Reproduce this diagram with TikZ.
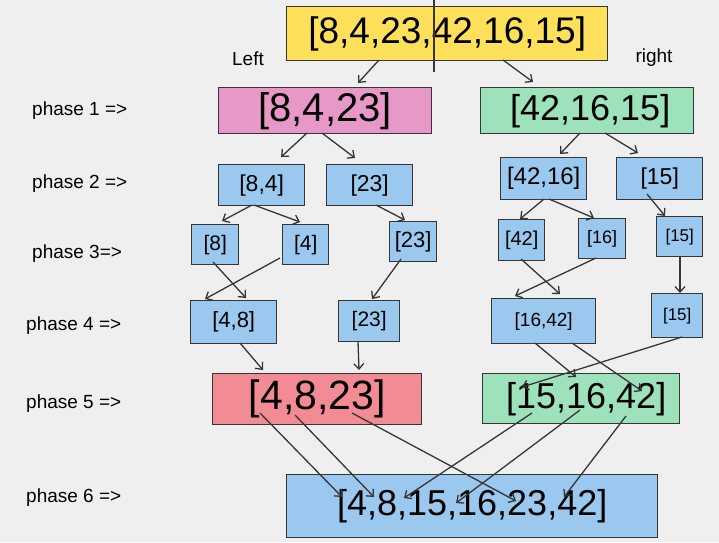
\documentclass[tikz,border=0pt]{standalone}
\usepackage{fontspec}
\setmainfont{Liberation Sans}
\usetikzlibrary{arrows.meta,calc}
\definecolor{bg}{HTML}{EFEFEF}
\definecolor{edge}{HTML}{363636}
\definecolor{cyellow}{HTML}{FEE05A}
\definecolor{cpink}{HTML}{E898C6}
\definecolor{cgreen}{HTML}{9EE2BB}
\definecolor{cblue}{HTML}{9AC8EE}
\definecolor{cred}{HTML}{F28B93}
\tikzset{
  box/.style={draw=edge, line width=1.4pt, anchor=north west, inner sep=0pt, text=black},
  lbl/.style={anchor=west, inner sep=0pt, font=\fontsize{19}{21}\selectfont},
  arr/.style={draw=edge, line width=1.3pt, -{Straight Barb[length=5.5pt,width=10pt]}},
}
\newcommand{\fs}[1]{\fontsize{#1}{#1}\selectfont}
\begin{document}
\begin{tikzpicture}[x=1pt,y=-1pt]
\fill[bg] (0,0) rectangle (719,542);
\useasboundingbox (0,0) rectangle (719,542);

% boxes
\node[box, fill=cyellow, minimum width=321pt, minimum height=54pt, font=\fs{37}] (top) at (286,6) {[8,4,23,42,16,15]\hspace{12pt}};
\node[box, fill=cpink, minimum width=213pt, minimum height=46pt, font=\fs{40}] (L1) at (218,87) {[8,4,23]\hspace{18pt}};
\node[box, fill=cgreen, minimum width=213pt, minimum height=46pt, font=\fs{36}] (R1) at (480,87) {\hspace{6pt}[42,16,15]};

\node[box, fill=cblue, minimum width=86pt, minimum height=41pt, font=\fs{23}] (a84) at (218,164) {[8,4]};
\node[box, fill=cblue, minimum width=86pt, minimum height=41pt, font=\fs{23}] (a23) at (326,164) {[23]\hspace{16pt}};
\node[box, fill=cblue, minimum width=86pt, minimum height=42pt, font=\fs{24}] (b4216) at (500,157) {[42,16]};
\node[box, fill=cblue, minimum width=86pt, minimum height=42pt, font=\fs{23}] (b15) at (616,157) {[15]};

\node[box, fill=cblue, minimum width=47pt, minimum height=40pt, font=\fs{21}] (c8) at (191,224) {[8]};
\node[box, fill=cblue, minimum width=46pt, minimum height=40pt, font=\fs{21}] (c4) at (282,224) {[4]};
\node[box, fill=cblue, minimum width=47pt, minimum height=40pt, font=\fs{22}] (c23) at (389,221) {[23]};
\node[box, fill=cblue, minimum width=46pt, minimum height=41pt, font=\fs{20}] (d42) at (498,219) {[42]};
\node[box, fill=cblue, minimum width=47pt, minimum height=40pt, font=\fs{18}] (d16) at (578,218) {[16]};
\node[box, fill=cblue, minimum width=46pt, minimum height=40pt, font=\fs{17}] (d15) at (656,216) {[15]};

\node[box, fill=cblue, minimum width=86pt, minimum height=43pt, font=\fs{22}] (e48) at (190,300) {[4,8]\hspace{24pt}};
\node[box, fill=cblue, minimum width=61pt, minimum height=41pt, font=\fs{21}] (e23) at (338,300) {[23]};
\node[box, fill=cblue, minimum width=104pt, minimum height=45pt, font=\fs{19}] (f1642) at (491,298) {[16,42]\hspace{10pt}};
\node[box, fill=cblue, minimum width=51pt, minimum height=44pt, font=\fs{17}] (f15) at (651,293) {[15]};

\node[box, fill=cred, minimum width=209pt, minimum height=51pt, font=\fs{41}] (g) at (212,373) {[4,8,23]\hspace{22pt}};
\node[box, fill=cgreen, minimum width=197pt, minimum height=50pt, font=\fs{36}] (h) at (482,373) {\hspace{10pt}[15,16,42]};
\node[box, fill=cblue, minimum width=371pt, minimum height=63pt, font=\fs{36}] (fin) at (286,474) {[4,8,15,16,23,42]\hspace{22pt}};

% labels
\node[lbl] (p1) at (32,111) {phase 1 =>};
\node[lbl] (p2) at (32,184) {phase 2 =>};
\node[lbl] (p3) at (32,254) {phase 3=>};
\node[lbl] (p4) at (26,326) {phase 4 =>};
\node[lbl] (p5) at (26,404) {phase 5 =>};
\node[lbl] (p6) at (26,498) {phase 6 =>};
\node[inner sep=0pt, font=\fs{19}] (lft) at (248,59) {Left};
\node[inner sep=0pt, font=\fs{19}] (rgt) at (654,58) {right};

% cut line
\coordinate (cut1) at (434,0);
\coordinate (cut2) at (434,72);
\draw[draw=edge, line width=1.6pt] (cut1) -- (cut2);

% arrows
\draw[arr] ([shift={(93,54)}]top.north west) -- ([shift={(140,-4)}]L1.north west);
\draw[arr] ([shift={(217,54)}]top.north west) -- ([shift={(53,-5)}]R1.north west);

\draw[arr] ([shift={(89,46)}]L1.north west) -- ([shift={(63,-7)}]a84.north west);
\draw[arr] ([shift={(104,46)}]L1.north west) -- ([shift={(29,-6)}]a23.north west);
\draw[arr] ([shift={(100,46)}]R1.north west) -- ([shift={(60,-3)}]b4216.north west);
\draw[arr] ([shift={(125,46)}]R1.north west) -- ([shift={(22,-4)}]b15.north west);

\draw[arr] ([shift={(34,41)}]a84.north west) -- ([shift={(31,-3)}]c8.north west);
\draw[arr] ([shift={(36,41)}]a84.north west) -- ([shift={(18,-2)}]c4.north west);
\draw[arr] ([shift={(50,41)}]a23.north west) -- ([shift={(16,-1)}]c23.north west);
\draw[arr] ([shift={(44,42)}]b4216.north west) -- ([shift={(22,0)}]d42.north west);
\draw[arr] ([shift={(49,42)}]b4216.north west) -- ([shift={(16,0)}]d16.north west);
\draw[arr] ([shift={(31,37)}]b15.north west) -- ([shift={(9,0)}]d15.north west);

\draw[arr] ([shift={(22,38)}]c8.north west) -- ([shift={(56,-2)}]e48.north west);
\draw[arr] ([shift={(-2,34)}]c4.north west) -- ([shift={(15,-1)}]e48.north west);
\draw[arr] ([shift={(12,38)}]c23.north west) -- ([shift={(34,-1)}]e23.north west);
\draw[arr] ([shift={(23,40)}]d42.north west) -- ([shift={(69,-4)}]f1642.north west);
\draw[arr] ([shift={(18,40)}]d16.north west) -- ([shift={(24,-2)}]f1642.north west);
\draw[arr] ([shift={(24,41)}]d15.north west) -- ([shift={(29,0)}]f15.north west);

\draw[arr] ([shift={(50,43)}]e48.north west) -- ([shift={(51,-3)}]g.north west);
\draw[arr] ([shift={(20,42)}]e23.north west) -- ([shift={(147,-3)}]g.north west);
\draw[arr] ([shift={(44,45)}]f1642.north west) -- ([shift={(94,4)}]h.north west);
\draw[arr] ([shift={(81,45)}]f1642.north west) -- ([shift={(160,18)}]h.north west);
\draw[arr] ([shift={(31,44)}]f15.north west) -- ([shift={(40,14)}]h.north west);

\draw[arr] ([shift={(48,40)}]g.north west) -- ([shift={(56,23)}]fin.north west);
\draw[arr] ([shift={(83,42)}]g.north west) -- ([shift={(88,23)}]fin.north west);
\draw[arr] ([shift={(140,40)}]g.north west) -- ([shift={(230,27)}]fin.north west);
\draw[arr] ([shift={(50,40)}]h.north west) -- ([shift={(118,24)}]fin.north west);
\draw[arr] ([shift={(98,37)}]h.north west) -- ([shift={(170,29)}]fin.north west);
\draw[arr] ([shift={(144,43)}]h.north west) -- ([shift={(278,23)}]fin.north west);
\end{tikzpicture}
\end{document}
